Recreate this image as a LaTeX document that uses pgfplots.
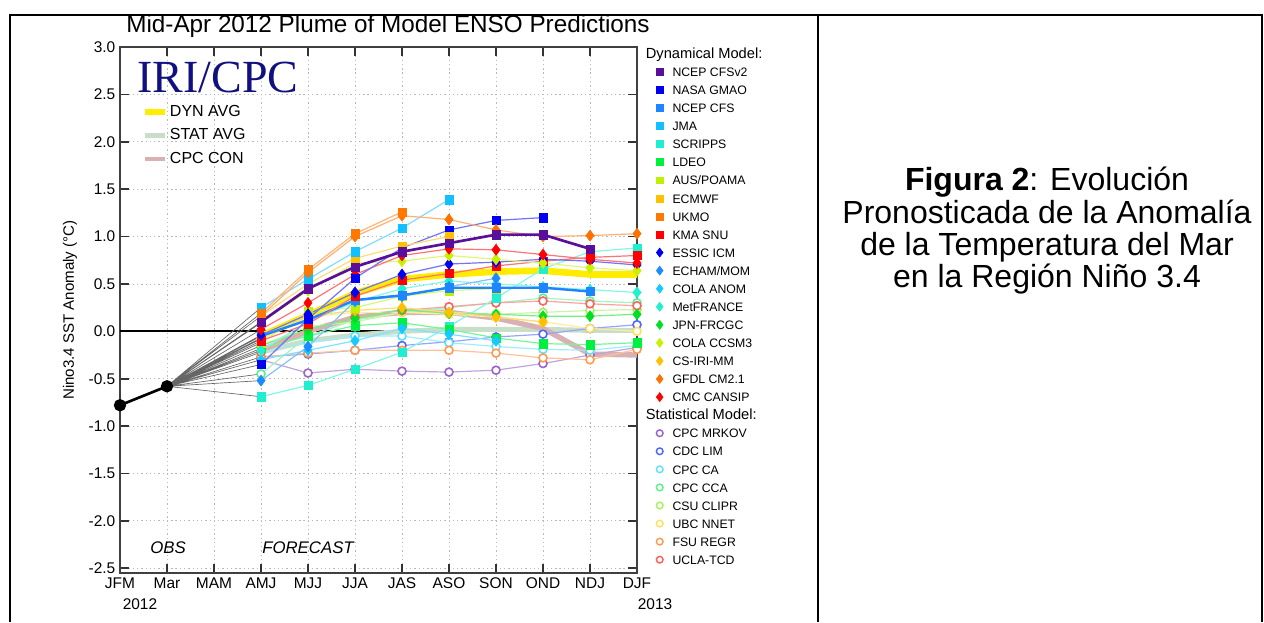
\documentclass[border=0pt]{standalone}
\usepackage{pgfplots}
\pgfplotsset{compat=1.18}
\usepackage{fontspec}
\setmainfont{Liberation Sans}
\newfontfamily\serifIRI{Liberation Serif}

\definecolor{cA}{HTML}{5A0F9A}
\definecolor{cB}{HTML}{0000F0}
\definecolor{cC}{HTML}{1E85FF}
\definecolor{cD}{HTML}{12C0FF}
\definecolor{cE}{HTML}{1FEFD0}
\definecolor{cF}{HTML}{00F040}
\definecolor{cG}{HTML}{C0F000}
\definecolor{cH}{HTML}{FFC000}
\definecolor{cI}{HTML}{FF7800}
\definecolor{cJ}{HTML}{FF0000}
\definecolor{cK}{HTML}{0000F0}
\definecolor{cL}{HTML}{1E8AFF}
\definecolor{cM}{HTML}{18C8FF}
\definecolor{cN}{HTML}{20F0D0}
\definecolor{cO}{HTML}{00E020}
\definecolor{cP}{HTML}{C8F000}
\definecolor{cQ}{HTML}{FFC000}
\definecolor{cR}{HTML}{FF7000}
\definecolor{cS}{HTML}{FF0000}
\definecolor{sA}{HTML}{9966CC}
\definecolor{sB}{HTML}{5068FF}
\definecolor{sC}{HTML}{60E0FF}
\definecolor{sD}{HTML}{60F090}
\definecolor{sE}{HTML}{A8F060}
\definecolor{sF}{HTML}{FFE060}
\definecolor{sG}{HTML}{FF9A50}
\definecolor{sH}{HTML}{FF6060}
\definecolor{dynavg}{HTML}{FFEC00}
\definecolor{statavg}{HTML}{C8DEC8}
\definecolor{cpccon}{HTML}{D8B2B2}
\definecolor{iri}{HTML}{101080}

\pgfplotsset{
  dsq/.style={draw=#1!55!white, mark=square*, mark size=3.1pt, line width=0.9pt, forget plot,
    mark options={solid, draw=#1, fill=#1, line width=0.3pt}},
  ddi/.style={draw=#1!55!white, mark=diamond*, mark size=4.2pt, line width=0.9pt, forget plot,
    mark options={solid, draw=#1, fill=#1, line width=0.3pt}},
  sci/.style={draw=#1!60!white, mark=*, mark size=3.0pt, line width=0.9pt, forget plot,
    mark options={solid, draw=#1, fill=white, line width=1.2pt}},
}

\begin{document}
\begin{tikzpicture}[x=0.75pt,y=0.75pt]
\path[use as bounding box] (0,0) rectangle (1264,622);
\draw[line width=1.5pt] (10,0) -- (10,607) -- (1262,607) -- (1262,0);
\draw[line width=1.5pt] (818,0) -- (818,607);

\begin{axis}[
  at={(90pt,36.75pt)}, anchor=south west, scale only axis,
  width=387.75pt, height=394.5pt,
  xmin=0, xmax=11, ymin=-2.55, ymax=3.0,
  clip=false,
  xtick={0,1,2,3,4,5,6,7,8,9,10,11},
  xticklabels={JFM,Mar,MAM,AMJ,MJJ,JJA,JAS,ASO,SON,OND,NDJ,DJF},
  ytick={-2.5,-2,-1.5,-1,-0.5,0,0.5,1,1.5,2,2.5,3},
  yticklabels={-2.5,-2.0,-1.5,-1.0,-0.5,0.0,0.5,1.0,1.5,2.0,2.5,3.0},
  tick align=inside, tick pos=both,
  major tick length=7pt,
  tick style={line width=1.3pt, black!80},
  axis line style={line width=1.4pt, black!75},
  grid=major,
  major grid style={line width=0.6pt, gray!55, dash pattern=on 1pt off 2.2pt},
  tick label style={font=\fontsize{11.6}{13}\selectfont},
  legend cell align=left,
  legend style={at={(0.042,0.8955)}, anchor=north west, draw=none, fill=none,
    inner sep=0pt, row sep=3.2pt, column sep=0pt,
    font=\fontsize{12}{14}\selectfont,
    nodes={inner sep=1.5pt, text height=9pt, text depth=2.5pt}},
  legend image code/.code={\draw[#1] (0pt,0pt) -- (15pt,0pt);},
]
\addlegendimage{line width=4.5pt, dynavg}
\addlegendentry{DYN AVG}
\addlegendimage{line width=3.2pt, statavg}
\addlegendentry{STAT AVG}
\addlegendimage{line width=3.2pt, cpccon}
\addlegendentry{CPC CON}

% zero line
\addplot[black, line width=1.6pt, forget plot] coordinates {(0,0) (11,0)};

% averages
\addplot[statavg, line width=3.8pt, forget plot] coordinates {(3,-0.22) (4,-0.10) (5,-0.04) (6,0.00) (7,0.02) (8,0.02) (9,0.02) (10,0.01) (11,0.01)};
\addplot[cpccon, line width=4pt, forget plot] coordinates {(3,-0.20) (4,0.00) (5,0.15) (6,0.20) (7,0.20) (8,0.14) (9,0.03) (10,-0.24) (11,-0.25)};
\addplot[dynavg, line width=5pt, forget plot] coordinates {(3,-0.05) (4,0.17) (5,0.40) (6,0.55) (7,0.60) (8,0.63) (9,0.64) (10,0.60) (11,0.60)};

% fan from last observation to first forecast season
\addplot[black!60, line width=0.5pt, forget plot] coordinates {
(1,-0.58) (3,0.10) (1,-0.58) (3,-0.35) (1,-0.58) (3,-0.05) (1,-0.58) (3,0.25)
(1,-0.58) (3,-0.69) (1,-0.58) (3,-0.18) (1,-0.58) (3,-0.12) (1,-0.58) (3,0.16)
(1,-0.58) (3,0.19) (1,-0.58) (3,-0.10) (1,-0.58) (3,-0.04) (1,-0.58) (3,-0.52)
(1,-0.58) (3,-0.30) (1,-0.58) (3,-0.20) (1,-0.58) (3,-0.15) (1,-0.58) (3,0.09)
(1,-0.58) (3,-0.07) (1,-0.58) (3,0.16) (1,-0.58) (3,0.02) (1,-0.58) (3,-0.30)
(1,-0.58) (3,-0.27) (1,-0.58) (3,-0.22) (1,-0.58) (3,-0.45) (1,-0.58) (3,-0.15)
(1,-0.58) (3,-0.08) (1,-0.58) (3,-0.27) (1,-0.58) (3,-0.22)};

% statistical models
\addplot[sci=sA] coordinates {(3,-0.30) (4,-0.44) (5,-0.40) (6,-0.42) (7,-0.43) (8,-0.41) (9,-0.34) (10,-0.25) (11,-0.17)};
\addplot[sci=sB] coordinates {(3,-0.27) (4,-0.24) (5,-0.20) (6,-0.15) (7,-0.11) (8,-0.06) (9,-0.03) (10,0.03) (11,0.07)};
\addplot[sci=sC] coordinates {(3,-0.22) (4,-0.12) (5,-0.05) (6,-0.05) (7,-0.12) (8,-0.16) (9,-0.19) (10,-0.20) (11,-0.15)};
\addplot[sci=sD] coordinates {(3,-0.45) (4,-0.05) (5,0.12) (6,0.20) (7,0.25) (8,0.30) (9,0.35) (10,0.32) (11,0.30)};
\addplot[sci=sE] coordinates {(3,-0.15) (4,0.05) (5,0.10) (6,0.20) (7,0.20) (8,0.18) (9,0.20) (10,0.22) (11,0.23)};
\addplot[sci=sF] coordinates {(3,-0.08) (4,0.15) (5,0.20) (6,0.20) (7,0.18) (8,0.15) (9,0.10) (10,0.03) (11,0.00)};
\addplot[sci=sG] coordinates {(3,-0.27) (4,-0.23) (5,-0.20) (6,-0.20) (7,-0.20) (8,-0.23) (9,-0.28) (10,-0.30) (11,-0.19)};
\addplot[sci=sH] coordinates {(3,-0.22) (4,0.02) (5,0.15) (6,0.22) (7,0.26) (8,0.30) (9,0.32) (10,0.29) (11,0.27)};

% dynamical models
\addplot[dsq=cE] coordinates {(3,-0.69) (4,-0.57) (5,-0.40) (6,-0.22) (7,0.05) (8,0.35) (9,0.66) (10,0.84) (11,0.88)};
\addplot[dsq=cF] coordinates {(3,-0.18) (4,-0.05) (5,0.06) (6,0.09) (7,0.02) (8,-0.07) (9,-0.13) (10,-0.14) (11,-0.12)};
\addplot[ddi=cO] coordinates {(3,-0.15) (4,0.02) (5,0.14) (6,0.23) (7,0.19) (8,0.18) (9,0.16) (10,0.16) (11,0.18)};
\addplot[ddi=cQ] coordinates {(3,-0.07) (4,0.16) (5,0.22) (6,0.25) (7,0.20) (8,0.15) (9,0.10)};
\addplot[ddi=cM] coordinates {(3,-0.30) (4,-0.20) (5,-0.10) (6,0.03) (7,-0.03) (8,-0.10)};
\addplot[dsq=cG] coordinates {(3,-0.12) (4,0.21) (5,0.25) (6,0.37) (7,0.43) (8,0.45)};
\addplot[ddi=cN] coordinates {(3,-0.20) (4,0.10) (5,0.31) (6,0.45) (7,0.53) (8,0.50) (9,0.47) (10,0.44) (11,0.41)};
\addplot[ddi=cL] coordinates {(3,-0.52) (4,-0.16) (5,0.32) (6,0.37) (7,0.47) (8,0.56)};
\addplot[dsq=cC, line width=1.8pt, draw=cC] coordinates {(3,-0.05) (4,0.12) (5,0.33) (6,0.38) (7,0.46) (8,0.46) (9,0.46) (10,0.42)};
\addplot[dsq=cJ] coordinates {(3,-0.10) (4,0.08) (5,0.37) (6,0.54) (7,0.61) (8,0.69) (9,0.74) (10,0.78) (11,0.80)};
\addplot[ddi=cK] coordinates {(3,-0.04) (4,0.18) (5,0.41) (6,0.60) (7,0.71) (8,0.73) (9,0.76) (10,0.74) (11,0.70)};
\addplot[ddi=cP] coordinates {(3,0.09) (4,0.43) (5,0.72) (6,0.74) (7,0.80) (8,0.76) (9,0.72) (10,0.67) (11,0.64)};
\addplot[ddi=cS] coordinates {(3,0.02) (4,0.30) (5,0.60) (6,0.80) (7,0.87) (8,0.86) (9,0.81) (10,0.76) (11,0.72)};
\addplot[dsq=cB] coordinates {(3,-0.35) (4,0.13) (5,0.56) (6,0.88) (7,1.07) (8,1.17) (9,1.20)};
\addplot[dsq=cH] coordinates {(3,0.16) (4,0.50) (5,0.77) (6,0.90) (7,1.00)};
\addplot[dsq=cD] coordinates {(3,0.25) (4,0.55) (5,0.84) (6,1.09) (7,1.39)};
\addplot[ddi=cR] coordinates {(3,0.16) (4,0.62) (5,1.00) (6,1.22) (7,1.18) (8,1.07) (9,1.00) (10,1.01) (11,1.03)};
\addplot[dsq=cI] coordinates {(3,0.19) (4,0.65) (5,1.03) (6,1.26)};
\addplot[dsq=cA, line width=2pt, draw=cA] coordinates {(3,0.10) (4,0.45) (5,0.68) (6,0.84) (7,0.93) (8,1.02) (9,1.02) (10,0.87)};

% observations
\addplot[black, line width=2pt, mark=*, mark size=3.6pt, forget plot] coordinates {(0,-0.78) (1,-0.58)};
\end{axis}

% second axis: model legend
\begin{axis}[
  at={(90pt,36.75pt)}, anchor=south west, scale only axis,
  width=387.75pt, height=394.5pt,
  xmin=0, xmax=1, ymin=0, ymax=1, hide axis,
  legend cell align=left,
  legend style={at={(1.0367,0.9964)}, anchor=north west, draw=none, fill=none,
    inner sep=0pt, row sep=4.55pt, column sep=7pt,
    font=\fontsize{9.2}{11}\selectfont,
    nodes={inner sep=0pt, text height=7pt, text depth=2pt}},
  legend image code/.code={\draw[#1] plot coordinates {(0pt,1pt)};},
]
\addlegendimage{empty legend}
\addlegendentry{\hspace*{-20pt}\fontsize{11}{12}\selectfont Dynamical Model:}
\addlegendimage{only marks, mark=square*, mark size=2.6pt, cA}\addlegendentry{NCEP CFSv2}
\addlegendimage{only marks, mark=square*, mark size=2.6pt, cB}\addlegendentry{NASA GMAO}
\addlegendimage{only marks, mark=square*, mark size=2.6pt, cC}\addlegendentry{NCEP CFS}
\addlegendimage{only marks, mark=square*, mark size=2.6pt, cD}\addlegendentry{JMA}
\addlegendimage{only marks, mark=square*, mark size=2.6pt, cE}\addlegendentry{SCRIPPS}
\addlegendimage{only marks, mark=square*, mark size=2.6pt, cF}\addlegendentry{LDEO}
\addlegendimage{only marks, mark=square*, mark size=2.6pt, cG}\addlegendentry{AUS/POAMA}
\addlegendimage{only marks, mark=square*, mark size=2.6pt, cH}\addlegendentry{ECMWF}
\addlegendimage{only marks, mark=square*, mark size=2.6pt, cI}\addlegendentry{UKMO}
\addlegendimage{only marks, mark=square*, mark size=2.6pt, cJ}\addlegendentry{KMA SNU}
\addlegendimage{only marks, mark=diamond*, mark size=3.4pt, cK}\addlegendentry{ESSIC ICM}
\addlegendimage{only marks, mark=diamond*, mark size=3.4pt, cL}\addlegendentry{ECHAM/MOM}
\addlegendimage{only marks, mark=diamond*, mark size=3.4pt, cM}\addlegendentry{COLA ANOM}
\addlegendimage{only marks, mark=diamond*, mark size=3.4pt, cN}\addlegendentry{MetFRANCE}
\addlegendimage{only marks, mark=diamond*, mark size=3.4pt, cO}\addlegendentry{JPN-FRCGC}
\addlegendimage{only marks, mark=diamond*, mark size=3.4pt, cP}\addlegendentry{COLA CCSM3}
\addlegendimage{only marks, mark=diamond*, mark size=3.4pt, cQ}\addlegendentry{CS-IRI-MM}
\addlegendimage{only marks, mark=diamond*, mark size=3.4pt, cR}\addlegendentry{GFDL CM2.1}
\addlegendimage{only marks, mark=diamond*, mark size=3.4pt, cS}\addlegendentry{CMC CANSIP}
\addlegendimage{empty legend}
\addlegendentry{\hspace*{-20pt}\fontsize{11}{12}\selectfont Statistical Model:}
\addlegendimage{only marks, mark=*, mark size=2.5pt, mark options={draw=sA, fill=white, line width=1.1pt}}\addlegendentry{CPC MRKOV}
\addlegendimage{only marks, mark=*, mark size=2.5pt, mark options={draw=sB, fill=white, line width=1.1pt}}\addlegendentry{CDC LIM}
\addlegendimage{only marks, mark=*, mark size=2.5pt, mark options={draw=sC, fill=white, line width=1.1pt}}\addlegendentry{CPC CA}
\addlegendimage{only marks, mark=*, mark size=2.5pt, mark options={draw=sD, fill=white, line width=1.1pt}}\addlegendentry{CPC CCA}
\addlegendimage{only marks, mark=*, mark size=2.5pt, mark options={draw=sE, fill=white, line width=1.1pt}}\addlegendentry{CSU CLIPR}
\addlegendimage{only marks, mark=*, mark size=2.5pt, mark options={draw=sF, fill=white, line width=1.1pt}}\addlegendentry{UBC NNET}
\addlegendimage{only marks, mark=*, mark size=2.5pt, mark options={draw=sG, fill=white, line width=1.1pt}}\addlegendentry{FSU REGR}
\addlegendimage{only marks, mark=*, mark size=2.5pt, mark options={draw=sH, fill=white, line width=1.1pt}}\addlegendentry{UCLA-TCD}
\end{axis}

% annotations
\node[anchor=base, inner sep=0pt, font=\fontsize{18.2}{20}\selectfont] at (388,589) {Mid-Apr 2012 Plume of Model ENSO Predictions};
\node[anchor=base west, inner sep=0pt, text=iri, font=\serifIRI\fontsize{34.5}{40}\selectfont] at (137,529) {IRI/CPC};
\node[rotate=90, inner sep=0pt, font=\fontsize{11.3}{13}\selectfont] at (70,312) {Nino3.4 SST Anomaly (°C)};
\node[inner sep=0pt, font=\fontsize{11.6}{13}\selectfont] at (140,18) {2012};
\node[inner sep=0pt, font=\fontsize{11.6}{13}\selectfont] at (655,18) {2013};
\node[inner sep=0pt, font=\itshape\fontsize{12.6}{14}\selectfont] at (168,74) {OBS};
\node[inner sep=0pt, font=\itshape\fontsize{12.6}{14}\selectfont] at (308,74) {FORECAST};

\node[anchor=base, inner sep=0pt, font=\fontsize{24}{29}\selectfont] at (1047,431) {\textbf{Figura 2}: Evolución};
\node[anchor=base, inner sep=0pt, font=\fontsize{24}{29}\selectfont] at (1047,398) {Pronosticada de la Anomalía};
\node[anchor=base, inner sep=0pt, font=\fontsize{24}{29}\selectfont] at (1047,366) {de la Temperatura del Mar};
\node[anchor=base, inner sep=0pt, font=\fontsize{24}{29}\selectfont] at (1047,334) {en la Región Niño 3.4};
\end{tikzpicture}
\end{document}
